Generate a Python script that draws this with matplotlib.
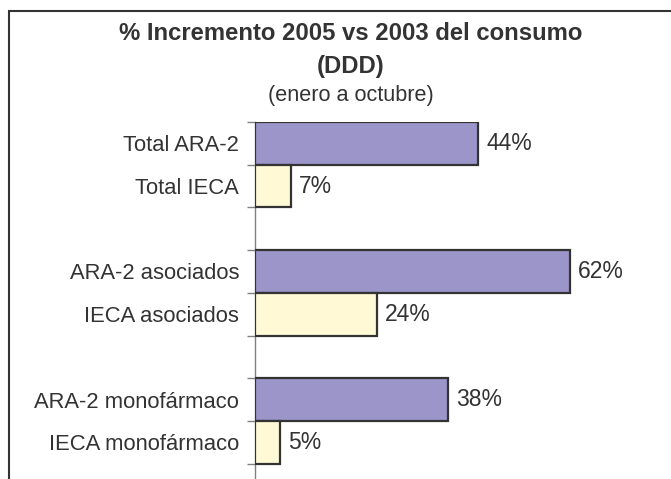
import numpy as np
import matplotlib.pyplot as plt
from matplotlib.patches import Rectangle

plt.rcParams['font.family'] = ['Liberation Sans', 'DejaVu Sans']

# Chart data (top to bottom)
categories = ["Total ARA-2", "Total IECA",
              "ARA-2 asociados", "IECA asociados",
              "ARA-2 monofármaco", "IECA monofármaco"]
values = [0.44, 0.07, 0.62, 0.24, 0.38, 0.05]
slots = [0, 1, 3, 4, 6, 7]   # empty slots separate the groups
colors = ["#9C95C9", "#FFF9D6"] * 3

W, H = 671, 479
fig = plt.figure(figsize=(W / 100, H / 100), dpi=100)

# outer frame (right and bottom sides fall outside the picture)
fig.patches.append(Rectangle((9 / W, -0.1), 1.0, (H - 11) / H + 0.1,
                             transform=fig.transFigure, fill=False,
                             edgecolor="#333333", linewidth=1.5))

ax = fig.add_axes([255 / W, 0, 416 / W, (H - 122) / H])
ax.barh(slots, values, height=1.0, color=colors, edgecolor="#333333",
        linewidth=1.6, zorder=3)
ax.set_xlim(0, 416 / 507.5)
ax.set_ylim(-0.5 + 357 / 42.7, -0.5)

for s, v in zip(slots, values):
    ax.text(v + 0.016, s, f"{v:.0%}", va="center", ha="left",
            fontsize=16.5, color="#333333")

ax.set_yticks(np.arange(-0.5, 8.0, 1.0))
ax.set_yticklabels([])
ax.set_yticks(slots, minor=True)
ax.set_yticklabels(categories, minor=True, fontsize=15.8, color="#333333")
ax.tick_params(axis="y", which="major", length=6, width=1, color="#808080",
               direction="out")
ax.tick_params(axis="y", which="minor", length=0, pad=11.5)
ax.set_xticks([])
for side in ["top", "right", "bottom"]:
    ax.spines[side].set_visible(False)
ax.spines["left"].set_color("#808080")
ax.spines["left"].set_linewidth(1.0)
ax.patch.set_alpha(0)

fig.text(351 / W, 1 - 34 / H, "% Incremento 2005 vs 2003 del consumo",
         ha="center", va="center", fontsize=17.2, fontweight="bold", color="#333333")
fig.text(351 / W, 1 - 66 / H, "(DDD)", ha="center", va="center",
         fontsize=17.2, fontweight="bold", color="#333333")
fig.text(351 / W, 1 - 96 / H, "(enero a octubre)", ha="center", va="center",
         fontsize=15.6, color="#333333")

fig.savefig("out.png", dpi=100)
